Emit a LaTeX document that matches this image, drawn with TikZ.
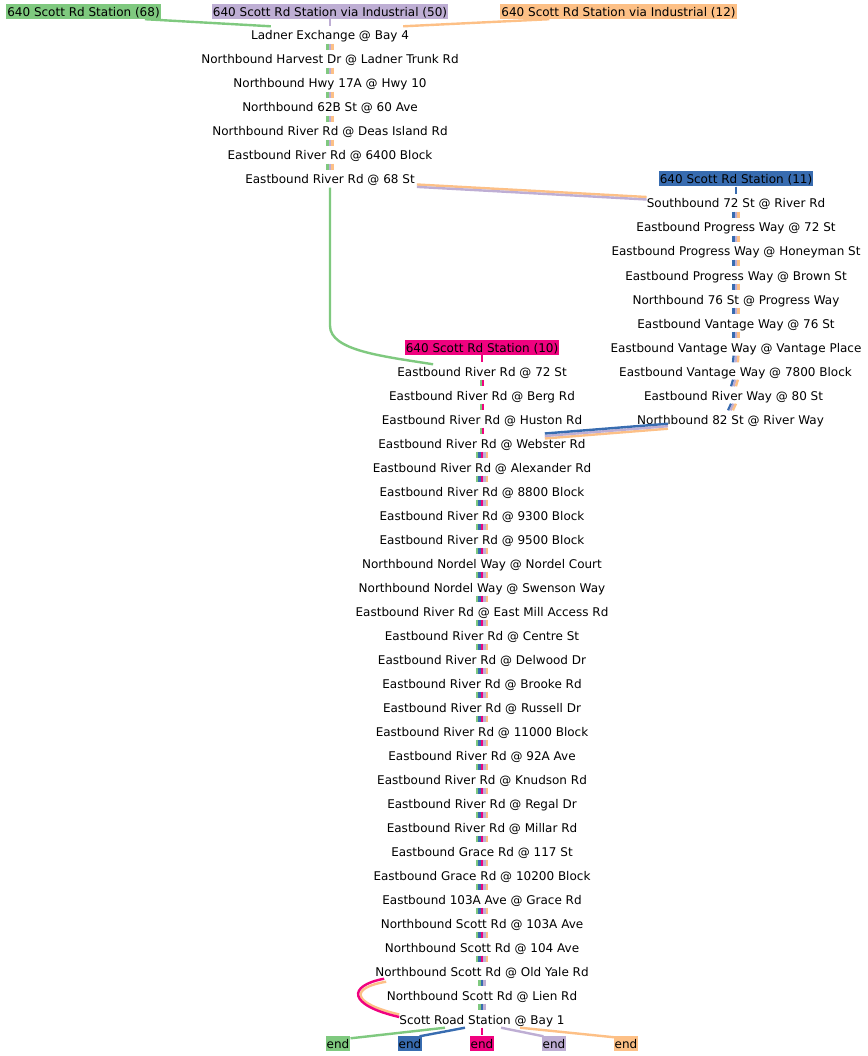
\documentclass[tikz,border=0pt]{standalone}
\usepackage{fontspec}
\setmainfont{DejaVu Sans}
\usepackage{xcolor}
\definecolor{routeGreen}{HTML}{7FC97F}
\definecolor{routePurple}{HTML}{BEAED4}
\definecolor{routeOrange}{HTML}{FDC086}
\definecolor{routeBlue}{HTML}{386CB0}
\definecolor{routeMagenta}{HTML}{F0027F}

\begin{document}
\begin{tikzpicture}[x=1pt, y=-1pt,
    stop/.style={inner xsep=0pt, inner ysep=2.5pt, text height=11pt, text depth=1pt,
      font=\fontsize{12}{14}\selectfont},
    lbl/.style={fill=#1, inner xsep=1pt, inner ysep=1.5pt, text height=11pt, text depth=1pt,
      font=\fontsize{12}{14}\selectfont},
    gline/.style={draw=routeGreen, line width=2.4pt},
    pline/.style={draw=routePurple, line width=2.4pt},
    oline/.style={draw=routeOrange, line width=2.4pt},
    bline/.style={draw=routeBlue, line width=2.4pt},
    mline/.style={draw=routeMagenta, line width=2.4pt}]
  \fill[white] (0,0) rectangle (867,1056);
  \useasboundingbox (0,0) rectangle (867,1056);

  % route labels
  \node[lbl=routeGreen] (g68) at (83.5,11.5) {640 Scott Rd Station (68)};
  \node[lbl=routePurple] (p50) at (330,11.5) {640 Scott Rd Station via Industrial (50)};
  \node[lbl=routeOrange] (o12) at (618.5,11.5) {640 Scott Rd Station via Industrial (12)};
  \node[lbl=routeBlue] (b11) at (736,179) {640 Scott Rd Station (11)};
  \node[lbl=routeMagenta] (m10) at (482,347) {640 Scott Rd Station (10)};

  % left column
  \foreach \i/\name in {0/Ladner Exchange @ Bay 4,
      1/Northbound Harvest Dr @ Ladner Trunk Rd,
      2/Northbound Hwy 17A @ Hwy 10,
      3/Northbound 62B St @ 60 Ave,
      4/Northbound River Rd @ Deas Island Rd,
      5/Eastbound River Rd @ 6400 Block,
      6/Eastbound River Rd @ 68 St}
    \node[stop] (L\i) at (330,{35+24*\i}) {\name};

  % right column
  \foreach \i/\x/\name in {0/736/Southbound 72 St @ River Rd,
      1/736/Eastbound Progress Way @ 72 St,
      2/736/Eastbound Progress Way @ Honeyman St,
      3/736/Eastbound Progress Way @ Brown St,
      4/736/Northbound 76 St @ Progress Way,
      5/736/Eastbound Vantage Way @ 76 St,
      6/736/Eastbound Vantage Way @ Vantage Place,
      7/735.5/Eastbound Vantage Way @ 7800 Block,
      8/733.5/Eastbound River Way @ 80 St,
      9/730.5/Northbound 82 St @ River Way}
    \node[stop] (R\i) at (\x,{203+24*\i}) {\name};

  % centre column
  \foreach \i/\name in {0/Eastbound River Rd @ 72 St,
      1/Eastbound River Rd @ Berg Rd,
      2/Eastbound River Rd @ Huston Rd,
      3/Eastbound River Rd @ Webster Rd,
      4/Eastbound River Rd @ Alexander Rd,
      5/Eastbound River Rd @ 8800 Block,
      6/Eastbound River Rd @ 9300 Block,
      7/Eastbound River Rd @ 9500 Block,
      8/Northbound Nordel Way @ Nordel Court,
      9/Northbound Nordel Way @ Swenson Way,
      10/Eastbound River Rd @ East Mill Access Rd,
      11/Eastbound River Rd @ Centre St,
      12/Eastbound River Rd @ Delwood Dr,
      13/Eastbound River Rd @ Brooke Rd,
      14/Eastbound River Rd @ Russell Dr,
      15/Eastbound River Rd @ 11000 Block,
      16/Eastbound River Rd @ 92A Ave,
      17/Eastbound River Rd @ Knudson Rd,
      18/Eastbound River Rd @ Regal Dr,
      19/Eastbound River Rd @ Millar Rd,
      20/Eastbound Grace Rd @ 117 St,
      21/Eastbound Grace Rd @ 10200 Block,
      22/Eastbound 103A Ave @ Grace Rd,
      23/Northbound Scott Rd @ 103A Ave,
      24/Northbound Scott Rd @ 104 Ave,
      25/Northbound Scott Rd @ Old Yale Rd,
      26/Northbound Scott Rd @ Lien Rd,
      27/Scott Road Station @ Bay 1}
    \node[stop] (C\i) at (482,{371+24*\i}) {\name};

  % end markers
  \node[lbl=routeGreen] (eg) at (338,1043) {end};
  \node[lbl=routeBlue] (eb) at (410,1043) {end};
  \node[lbl=routeMagenta] (em) at (482,1043) {end};
  \node[lbl=routePurple] (ep) at (554,1043) {end};
  \node[lbl=routeOrange] (eo) at (626,1043) {end};

  % stubs between stops
  \foreach \i in {0,...,5} {
    \pgfmathtruncatemacro{\j}{\i+1}
    \draw[gline] ([xshift=-2.4pt]L\i.south) -- ([xshift=-2.4pt]L\j.north);
    \draw[pline] (L\i.south) -- (L\j.north);
    \draw[oline] ([xshift=2.4pt]L\i.south) -- ([xshift=2.4pt]L\j.north);
  }
  \foreach \i in {0,...,8} {
    \pgfmathtruncatemacro{\j}{\i+1}
    \draw[bline] ([xshift=-2.4pt]R\i.south) -- ([xshift=-2.4pt]R\j.north);
    \draw[pline] (R\i.south) -- (R\j.north);
    \draw[oline] ([xshift=2.4pt]R\i.south) -- ([xshift=2.4pt]R\j.north);
  }
  \foreach \i in {0,...,2} {
    \pgfmathtruncatemacro{\j}{\i+1}
    \draw[gline] ([xshift=-1.2pt]C\i.south) -- ([xshift=-1.2pt]C\j.north);
    \draw[mline] ([xshift=1.2pt]C\i.south) -- ([xshift=1.2pt]C\j.north);
  }
  \foreach \i in {3,...,24} {
    \pgfmathtruncatemacro{\j}{\i+1}
    \draw[gline] ([xshift=-4.8pt]C\i.south) -- ([xshift=-4.8pt]C\j.north);
    \draw[bline] ([xshift=-2.4pt]C\i.south) -- ([xshift=-2.4pt]C\j.north);
    \draw[mline] (C\i.south) -- (C\j.north);
    \draw[pline] ([xshift=2.4pt]C\i.south) -- ([xshift=2.4pt]C\j.north);
    \draw[oline] ([xshift=4.8pt]C\i.south) -- ([xshift=4.8pt]C\j.north);
  }
  \foreach \i in {25,26} {
    \pgfmathtruncatemacro{\j}{\i+1}
    \draw[gline] ([xshift=-2.4pt]C\i.south) -- ([xshift=-2.4pt]C\j.north);
    \draw[bline] (C\i.south) -- (C\j.north);
    \draw[pline] ([xshift=2.4pt]C\i.south) -- ([xshift=2.4pt]C\j.north);
  }

  % labels to first stops
  \draw[gline] ([xshift=-16pt]g68.south east) -- ([xshift=20pt]L0.north west);
  \draw[pline] (p50.south) -- (L0.north);
  \draw[oline] ([xshift=49pt]o12.south west) -- ([xshift=-6pt]L0.north east);
  \draw[bline] (b11.south) -- (R0.north);
  \draw[mline] (m10.south) -- (C0.north);

  % branch and merge
  \draw[gline] (L6.south) -- ++(0,138)
    .. controls +(0,25) and +(-50,-8) .. ([xshift=36pt,yshift=-2pt]C0.north west);
  \draw[oline] ([xshift=2pt,yshift=3.2pt]L6.south east) -- ([yshift=-2.7pt]R0.north west);
  \draw[pline] ([xshift=2pt,yshift=0.8pt]L6.south east) -- ([yshift=-5.2pt]R0.north west);
  \draw[oline] ([xshift=31pt,yshift=-1pt]R9.south west) -- ([xshift=-41pt,yshift=-4.2pt]C3.north east);
  \draw[pline] ([xshift=31pt,yshift=1.5pt]R9.south west) -- ([xshift=-41pt,yshift=-1.7pt]C3.north east);
  \draw[bline] ([xshift=31pt,yshift=4pt]R9.south west) -- ([xshift=-41pt,yshift=0.8pt]C3.north east);

  % loop past Lien Rd
  \draw[oline] ([xshift=11pt,yshift=-2pt]C25.south west)
    .. controls +(-36,6) and +(-49,-11.5) .. ([yshift=4.5pt]C27.west);
  \draw[mline] ([xshift=9pt,yshift=1pt]C25.south west)
    .. controls +(-37,7) and +(-52,-12) .. ([yshift=2pt]C27.west);

  % last stop to ends
  \draw[gline] ([xshift=-37pt]C27.south) -- ([yshift=-3pt]eg.north east);
  \draw[bline] ([xshift=-17pt]C27.south) -- ([xshift=-3pt,yshift=-1pt]eb.north east);
  \draw[mline] (C27.south) -- (em.north);
  \draw[pline] ([xshift=19pt]C27.south) -- ([xshift=2pt,yshift=-1pt]ep.north west);
  \draw[oline] ([xshift=38pt]C27.south) -- ([xshift=1pt,yshift=-2pt]eo.north west);
\end{tikzpicture}
\end{document}
